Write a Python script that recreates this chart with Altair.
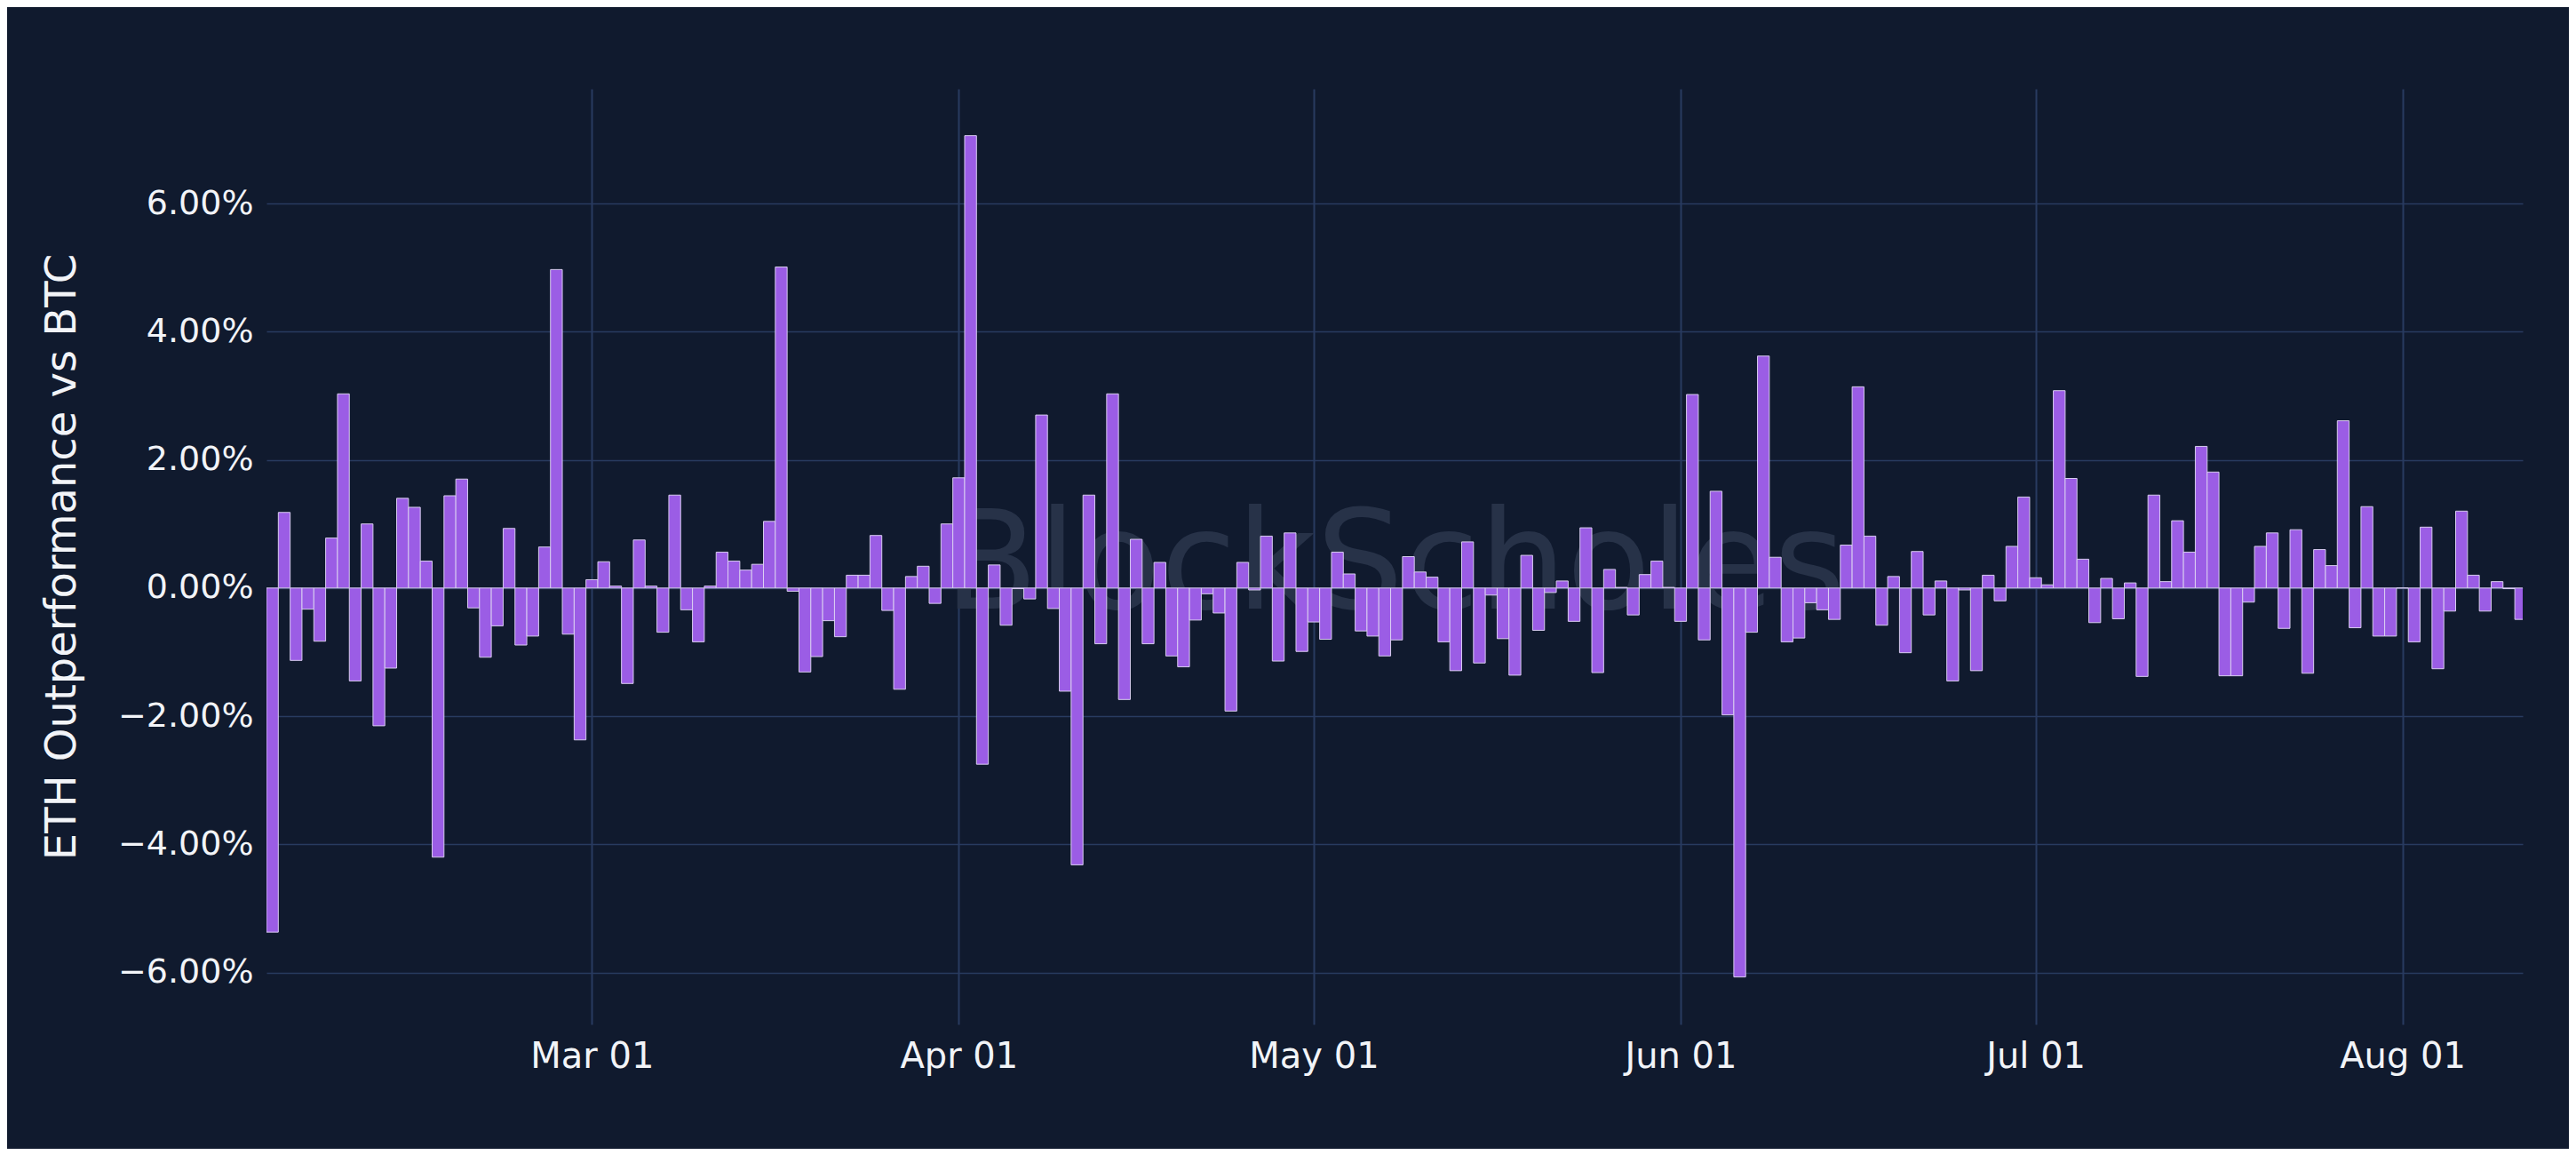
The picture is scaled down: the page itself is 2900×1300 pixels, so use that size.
import altair as alt
import pandas as pd

# ---- data ----
start_date = "2023-02-02"

outperformance = [
    -5.37, 1.18, -1.13, -0.33, -0.83, 0.78, 3.03, -1.45, 1.00, -2.15,
    -1.25, 1.40, 1.26, 0.42, -4.20, 1.44, 1.70, -0.31, -1.08, -0.59,
    0.93, -0.89, -0.75, 0.64, 4.97, -0.72, -2.37, 0.13, 0.41, 0.03,
    -1.49, 0.75, 0.03, -0.69, 1.45, -0.34, -0.84, 0.03, 0.56, 0.42,
    0.28, 0.37, 1.04, 5.01, -0.05, -1.31, -1.07, -0.51, -0.76, 0.20,
    0.20, 0.82, -0.35, -1.58, 0.18, 0.34, -0.24, 1.00, 1.72, 7.06,
    -2.75, 0.36, -0.58, -0.01, -0.17, 2.70, -0.32, -1.61, -4.32, 1.45,
    -0.87, 3.03, -1.74, 0.76, -0.87, 0.40, -1.06, -1.23, -0.50, -0.09,
    -0.39, -1.92, 0.40, -0.03, 0.81, -1.14, 0.86, -0.99, -0.53, -0.80,
    0.56, 0.22, -0.67, -0.75, -1.06, -0.81, 0.49, 0.25, 0.17, -0.84,
    -1.29, 0.72, -1.17, -0.11, -0.79, -1.36, 0.51, -0.66, -0.07, 0.11,
    -0.52, 0.94, -1.32, 0.29, 0.01, -0.42, 0.21, 0.42, 0.01, -0.52,
    3.02, -0.81, 1.51, -1.98, -6.07, -0.69, 3.62, 0.48, -0.84, -0.78,
    -0.23, -0.34, -0.49, 0.67, 3.14, 0.81, -0.58, 0.18, -1.01, 0.57,
    -0.42, 0.11, -1.45, -0.03, -1.29, 0.20, -0.20, 0.65, 1.42, 0.16,
    0.05, 3.08, 1.71, 0.45, -0.54, 0.15, -0.48, 0.08, -1.38, 1.45,
    0.10, 1.05, 0.56, 2.21, 1.81, -1.37, -1.37, -0.22, 0.65, 0.86,
    -0.63, 0.91, -1.33, 0.60, 0.35, 2.61, -0.62, 1.27, -0.75, -0.75,
    0.00, -0.84, 0.95, -1.26, -0.36, 1.20, 0.20, -0.36, 0.10, -0.01,
    -0.49,
]

x_tick_months = [3, 4, 5, 6, 7, 8]
y_ticks = [-6, -4, -2, 0, 2, 4, 6]
y_domain = [-6.81, 7.79]
y_title = "ETH Outperformance vs BTC"
watermark = "BlockScholes"

# ---- build table ----
dates = pd.date_range(start_date, periods=len(outperformance), freq="D")
fmt = "%Y-%m-%dT%H:%M:%SZ"
df = pd.DataFrame({
    "date": dates.strftime(fmt),
    "start": (dates - pd.Timedelta(hours=12)).strftime(fmt),
    "end": (dates + pd.Timedelta(hours=12)).strftime(fmt),
    "value": outperformance,
})

W, H = 2540, 1053
BG = "#101a2e"
GRID = "#283b60"
FONT = "DejaVu Sans"

x_domain = [
    alt.DateTime(year=2023, month=2, date=1, hours=12, utc=True),
    alt.DateTime(year=2023, month=8, date=11, hours=4, utc=True),
]
x_values = [alt.DateTime(year=2023, month=m, date=1, utc=True) for m in x_tick_months]

bars = alt.Chart(df).mark_bar(
    color="#9b5de5", stroke="#ddd3f3", strokeWidth=1, strokeOpacity=0.95, clip=True
).encode(
    x=alt.X(
        "start:T",
        scale=alt.Scale(type="utc", domain=x_domain),
        axis=alt.Axis(
            values=x_values, format="%b %d", title=None, grid=True,
            gridColor=GRID, gridWidth=2, domain=False, ticks=False,
            labelFontSize=40, labelPadding=16, labelColor="#f2f4f8",
            labelFont=FONT,
        ),
    ),
    x2="end:T",
    y=alt.Y(
        "value:Q",
        scale=alt.Scale(domain=y_domain, nice=False, zero=False),
        axis=alt.Axis(
            values=y_ticks, labelExpr="format(datum.value, '.2f') + '%'",
            title=y_title, titleFontSize=48, titleFont=FONT, titleColor="#f2f4f8",
            titleFontWeight="normal", titleX=-230, titleY=H / 2,
            titleBaseline="middle", titleAlign="center",
            grid=True, gridColor=GRID, gridWidth=1.5, domain=False, ticks=False,
            labelFontSize=38, labelPadding=15, labelColor="#f2f4f8", labelFont=FONT,
        ),
    ),
    y2=alt.datum(0),
)

wm = alt.Chart(pd.DataFrame({"t": [watermark]})).mark_text(
    font=FONT, fontSize=155, fontWeight="normal", color="#273248",
    align="center", baseline="alphabetic",
).encode(
    text="t:N",
    x=alt.value(W / 2),
    y=alt.value(H / 2 + 58),
)

chart = alt.layer(wm, bars).properties(
    width=W, height=H, background=BG,
    autosize=alt.AutoSizeParams(type="none"),
    padding={"left": 292, "top": 92, "right": 52, "bottom": 140},
).configure_view(stroke=None)

chart.save("out.html", embed_options={"renderer": "svg", "actions": False})
